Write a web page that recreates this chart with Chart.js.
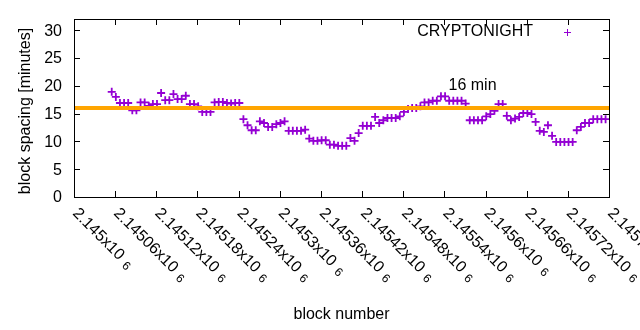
<!DOCTYPE html>
<html>
<head>
<meta charset="utf-8">
<script src="https://cdn.jsdelivr.net/npm/chart.js@4/dist/chart.umd.min.js"></script>
<style>
  html, body { margin: 0; padding: 0; background: #fff; }
  #wrap { width: 640px; height: 330px; }
</style>
</head>
<body>
<div id="wrap"><canvas id="chart"></canvas></div>
<script>
// block numbers (x) and block spacing in minutes (y)
const blocks = [
  2145055, 2145061, 2145067, 2145073, 2145079, 2145085, 2145091, 2145097, 2145103, 2145109,
  2145115, 2145121, 2145127, 2145133, 2145139, 2145145, 2145151, 2145157, 2145163, 2145169,
  2145175, 2145181, 2145187, 2145193, 2145199, 2145205, 2145211, 2145217, 2145223, 2145229,
  2145235, 2145241, 2145247, 2145253, 2145259, 2145265, 2145271, 2145277, 2145283, 2145289,
  2145295, 2145301, 2145307, 2145313, 2145319, 2145325, 2145331, 2145337, 2145343, 2145349,
  2145355, 2145361, 2145367, 2145373, 2145379, 2145385, 2145391, 2145397, 2145403, 2145409,
  2145415, 2145421, 2145427, 2145433, 2145439, 2145445, 2145451, 2145457, 2145463, 2145469,
  2145475, 2145481, 2145487, 2145493, 2145499, 2145505, 2145511, 2145517, 2145523, 2145529,
  2145535, 2145541, 2145547, 2145553, 2145559, 2145565, 2145571, 2145577, 2145583, 2145589,
  2145595, 2145601, 2145607, 2145613, 2145619, 2145625, 2145631, 2145637, 2145643, 2145649,
  2145655, 2145661, 2145667, 2145673, 2145679, 2145685, 2145691, 2145697, 2145703, 2145709,
  2145715, 2145721, 2145727, 2145733, 2145739, 2145745, 2145751, 2145757, 2145763, 2145769,
  2145775
];
const spacing = [
  18.9, 18.0, 16.9, 16.9, 16.9, 15.6, 15.6, 17.0, 17.0, 16.4,
  16.7, 16.7, 18.7, 17.4, 17.4, 18.5, 17.6, 17.6, 18.2, 16.7,
  16.7, 16.3, 15.3, 15.3, 15.3, 17.0, 17.1, 17.1, 16.9, 16.8,
  16.9, 16.9, 14.0, 12.9, 12.0, 12.0, 13.6, 13.3, 12.6, 12.6,
  13.1, 13.3, 13.6, 11.9, 11.9, 11.9, 11.9, 12.1, 10.5, 10.1,
  10.1, 10.2, 10.2, 9.4, 9.4, 9.2, 9.2, 9.2, 10.6, 10.1,
  11.5, 12.8, 12.8, 12.8, 14.4, 13.3, 13.8, 14.2, 14.2, 14.2,
  14.5, 15.3, 15.8, 16.0, 16.0, 16.3, 17.0, 17.0, 17.3, 17.3,
  18.1, 18.1, 17.3, 17.3, 17.3, 17.3, 16.8, 13.8, 13.8, 13.8,
  13.8, 14.5, 14.9, 15.5, 16.7, 16.7, 14.6, 13.8, 14.1, 14.4,
  15.1, 15.1, 14.9, 13.5, 11.9, 11.7, 12.9, 11.0, 9.9, 9.9,
  9.9, 9.9, 9.9, 12.0, 12.6, 13.3, 13.3, 14.0, 14.0, 14.0,
  14.0
];
const targetMinutes = 16;
const xMin = 2145000;
const xMax = 2145780;
const xTicks = [2145000, 2145060, 2145120, 2145180, 2145240, 2145300, 2145360,
                2145420, 2145480, 2145540, 2145600, 2145660, 2145720, 2145780];
const xTickLabels = ['2.145', '2.14506', '2.14512', '2.14518', '2.14524', '2.1453', '2.14536',
                     '2.14542', '2.14548', '2.14554', '2.1456', '2.14566', '2.14572', '2.14578'];
const yTicks = [0, 5, 10, 15, 20, 25, 30];

const FONT = "'Liberation Sans', Arial, sans-serif";
const PURPLE = '#9400d3';
const ORANGE = '#ffa500';

// gnuplot-like frame, ticks and texts
const framePlugin = {
  id: 'frame',
  afterDraw(chart) {
    const { ctx, chartArea: a, scales: { x, y } } = chart;
    ctx.save();
    ctx.strokeStyle = '#000';
    ctx.lineWidth = 1;
    ctx.strokeRect(Math.round(a.left) + 0.5, Math.round(a.top) + 0.5,
                   Math.round(a.right - a.left), Math.round(a.bottom - a.top));
    ctx.beginPath();
    const t = 6;
    yTicks.forEach(v => {
      const py = Math.round(y.getPixelForValue(v)) + 0.5;
      ctx.moveTo(a.left, py); ctx.lineTo(a.left + t, py);
      ctx.moveTo(a.right, py); ctx.lineTo(a.right - t, py);
    });
    xTicks.forEach(v => {
      const px = Math.round(x.getPixelForValue(v)) + 0.5;
      ctx.moveTo(px, a.bottom); ctx.lineTo(px, a.bottom - t);
      ctx.moveTo(px, a.top); ctx.lineTo(px, a.top + t);
    });
    ctx.stroke();

    ctx.fillStyle = '#000';
    ctx.font = '16px ' + FONT;
    ctx.textAlign = 'right';
    ctx.textBaseline = 'middle';
    yTicks.forEach(v => ctx.fillText(String(v), a.left - 12, y.getPixelForValue(v) + 1));

    xTicks.forEach((v, i) => {
      const px = x.getPixelForValue(v);
      ctx.save();
      ctx.translate(px + 1, a.bottom + 14);
      ctx.rotate(Math.PI / 4);
      ctx.textAlign = 'left';
      ctx.textBaseline = 'middle';
      ctx.font = '16px ' + FONT;
      const main = xTickLabels[i] + 'x10';
      ctx.fillText(main, 0, 0);
      const w = ctx.measureText(main).width;
      ctx.font = '12px ' + FONT;
      ctx.fillText('6', w + 6, 3);
      ctx.restore();
    });

    ctx.font = '16px ' + FONT;
    ctx.textAlign = 'center';
    ctx.textBaseline = 'middle';
    ctx.fillText('block number', (a.left + a.right) / 2, 315);
    ctx.save();
    ctx.translate(26, 111);
    ctx.rotate(-Math.PI / 2);
    ctx.fillText('block spacing [minutes]', 0, 0);
    ctx.restore();

    ctx.textAlign = 'left';
    ctx.fillText('16 min', x.getPixelForValue(2145546), y.getPixelForValue(20));

    // legend
    ctx.textAlign = 'right';
    ctx.fillText('CRYPTONIGHT', 533, 32);
    ctx.strokeStyle = PURPLE;
    ctx.beginPath();
    ctx.moveTo(564, 32.5); ctx.lineTo(571, 32.5);
    ctx.moveTo(567.5, 29); ctx.lineTo(567.5, 36);
    ctx.stroke();
    ctx.restore();
  }
};

const points = blocks.map((b, i) => ({ x: b, y: spacing[i] }));

new Chart(document.getElementById('chart'), {
  type: 'scatter',
  data: {
    datasets: [
      {
        label: '16 min',
        data: [{ x: xMin, y: targetMinutes }, { x: xMax, y: targetMinutes }],
        showLine: true,
        borderColor: ORANGE,
        borderWidth: 4,
        pointRadius: 0,
        clip: 4
      },
      {
        label: 'CRYPTONIGHT',
        data: points,
        pointStyle: 'cross',
        pointRadius: 4,
        borderColor: PURPLE,
        backgroundColor: PURPLE,
        pointBorderWidth: 1.8
      }
    ]
  },
  options: {
    responsive: true,
    maintainAspectRatio: false,
    animation: false,
    layout: { padding: { left: 74, right: 31, top: 19, bottom: 133 } },
    scales: {
      x: { type: 'linear', min: xMin, max: xMax, display: false },
      y: { type: 'linear', min: 0, max: 32, display: false }
    },
    plugins: {
      legend: { display: false },
      tooltip: { enabled: false }
    }
  },
  plugins: [framePlugin]
});
</script>
</body>
</html>
